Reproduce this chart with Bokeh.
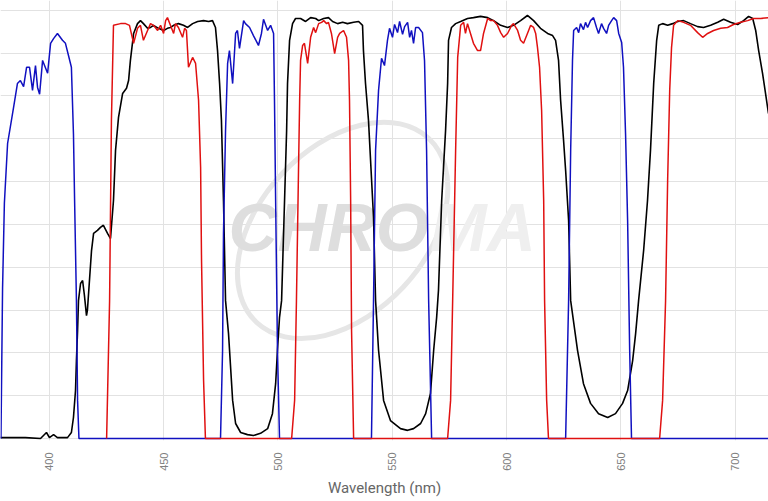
import math
from bokeh.plotting import figure
from bokeh.models import Range1d, FixedTicker
from bokeh.embed import file_html
from bokeh.resources import INLINE
from bokeh.core.properties import value

# ---- data (wavelength in nm, transmission in %) ----
blue_nm = [378.9, 379.6, 380.4, 381.8, 384.4, 386.1, 387.4, 388.8, 390.1, 391.4, 392.7, 394.0, 394.9, 395.8,
           397.1, 399.3, 400.6, 401.9, 403.6, 405.8, 407.1, 408.4, 409.7, 410.6, 411.1, 411.9, 412.4, 413.0,
           474.9, 475.8, 476.2, 477.1, 478.0, 478.8, 480.2, 481.5, 482.3, 483.2, 485.0, 485.8, 487.6, 489.3,
           491.5, 492.8, 493.7, 495.5, 496.8, 498.1, 498.5, 499.0, 499.8, 500.7,
           540.9, 541.8, 542.7, 544.0, 545.3, 546.6, 547.9, 548.8, 550.1, 551.0, 552.3, 553.2, 554.5, 555.4,
           556.7, 557.6, 558.4, 559.3, 560.2, 561.5, 563.2, 564.1, 565.0, 565.9, 567.2,
           625.8, 627.1, 628.0, 628.8, 629.3, 630.6, 631.5, 632.3, 633.6, 634.5, 635.4, 636.7, 638.0, 639.3,
           640.2, 641.5, 642.4, 643.7, 644.6, 645.9, 646.8, 648.1, 649.0, 650.3, 651.1, 652.0, 652.9, 653.8,
           654.6, 715.0]
blue_t = [0, 35, 55, 68.9, 77.3, 82.9, 83.6, 82.2, 86.7, 86.7, 81.3, 87.1, 82.0, 80.4,
          88.3, 85.3, 92.3, 93.4, 94.6, 93.0, 92.3, 89.5, 86.7, 71.2, 55.6, 32.2, 8.9, 0,
          0, 20.6, 47.9, 72.0, 87.6, 90.6, 82.9, 94.6, 95.3, 91.1, 97.6, 96.9, 96.0, 94.1,
          91.8, 94.6, 97.9, 95.3, 96.5, 94.6, 79.0, 55.6, 20.6, 0,
          0, 32.2, 67.3, 81.3, 88.8, 87.1, 93.0, 95.8, 93.7, 96.7, 94.8, 97.4, 94.4, 96.2,
          97.2, 93.7, 95.3, 92.3, 96.0, 96.0, 94.8, 88.3, 67.3, 32.2, 0,
          0, 32.2, 67.3, 88.3, 95.3, 96.0, 94.8, 96.9, 95.5, 97.2, 96.0, 97.6, 98.3, 96.0,
          94.6, 96.9, 95.8, 94.6, 96.5, 97.6, 98.3, 97.6, 94.6, 92.5, 86.7, 71.2, 50.9, 20.6,
          0, 0]

red_nm = [425.1, 426.4, 427.2, 428.1, 431.2, 433.4, 435.1, 436.9, 438.6, 439.9, 441.2, 443.0, 444.3,
          445.6, 447.4, 448.7, 450.0, 450.9, 451.7, 453.0, 454.4, 455.2, 456.5, 458.3, 459.2, 460.0, 460.9,
          462.7, 464.0, 465.3, 466.2, 466.6, 467.5, 468.3,
          506.0, 507.3, 508.1, 509.0, 509.5, 509.9, 510.8, 511.6, 513.0, 514.3, 515.6, 516.5, 517.8, 519.1,
          520.0, 521.3, 522.1, 523.4, 524.8, 526.1, 527.0, 528.7, 530.0, 530.9, 531.3, 531.8, 532.2, 533.1,
          574.2, 575.5, 576.4, 577.7, 578.6, 579.9, 581.2, 582.0, 582.9, 584.2, 585.5, 587.3, 588.6, 589.9,
          591.7, 593.0, 594.3, 596.0, 597.4, 598.7, 600.4, 602.2, 603.0, 604.8, 606.1, 607.4, 609.1, 610.5,
          611.8, 612.7, 613.5, 614.4, 615.3, 616.2, 616.6, 617.5, 618.3,
          666.9, 668.2, 669.5, 670.4, 671.3, 672.1, 673.0, 674.8, 677.4, 680.4, 683.5, 685.7, 687.9, 690.5,
          693.6, 696.6, 699.2, 702.3, 705.4, 708.0, 711.1, 714.5]
red_t = [0, 32.2, 74.3, 96.5, 96.9, 96.9, 96.5, 92.3, 95.8, 96.5, 93.0, 95.3, 96.9,
         96.5, 95.3, 96.5, 94.6, 97.6, 98.3, 96.5, 94.6, 96.9, 96.0, 93.7, 95.8, 95.3, 86.7,
         89.0, 87.6, 79.0, 63.3, 41.6, 13.5, 0,
         0, 8.9, 32.2, 62.6, 79.0, 88.3, 91.8, 92.3, 87.6, 93.7, 96.0, 94.8, 96.9, 97.2,
         97.6, 96.9, 97.2, 94.6, 89.9, 93.7, 94.6, 95.3, 93.7, 88.3, 79.0, 55.6, 25.2, 0,
         0, 8.9, 32.2, 67.3, 89.0, 96.5, 97.2, 94.6, 96.9, 94.6, 92.3, 90.6, 90.6, 94.6,
         98.1, 97.6, 97.6, 96.5, 94.8, 93.7, 94.6, 96.5, 96.9, 95.3, 93.0, 92.3, 94.6, 96.5,
         96.0, 94.6, 91.3, 86.7, 76.6, 55.6, 32.2, 8.9, 0,
         0, 8.9, 32.2, 60.3, 81.3, 91.3, 96.5, 97.6, 97.2, 96.5, 94.8, 93.7, 94.6, 95.3,
         95.8, 96.0, 96.7, 97.2, 97.6, 98.1, 98.1, 98.3]

black_nm = [378.7, 389.6, 396.2, 398.8, 400.1, 401.9, 403.6, 408.0, 409.7, 410.6,
            411.5, 411.9, 412.4, 412.8, 413.7, 414.6, 415.4, 416.3, 416.7, 417.6,
            418.5, 419.4, 421.1, 422.4, 423.7, 425.5, 426.8, 428.1, 429.0, 430.3,
            432.1, 433.8, 434.7, 435.5, 436.9, 438.6, 439.9, 441.2, 443.0, 444.3,
            445.6, 447.8, 450.0, 451.7, 453.0, 454.4, 456.5, 458.7, 460.5, 462.7,
            464.9, 467.5, 469.7, 471.4, 472.7, 473.6, 474.5, 475.3, 476.2, 477.1,
            478.4, 480.2, 481.5, 483.7, 486.7, 489.3, 492.4, 495.5, 497.6, 499.0,
            499.8, 500.7, 501.6, 502.9, 503.8, 504.2, 505.1, 506.4, 507.7, 509.9,
            512.1, 514.3, 516.5, 517.8, 520.0, 522.1, 523.9, 526.1, 528.3, 530.4,
            533.1, 535.3, 537.0, 537.4, 538.3, 539.6, 541.8, 542.7, 544.0, 546.2,
            549.2, 553.6, 556.7, 559.3, 562.4, 564.6, 566.7, 568.1, 569.4, 570.2,
            571.6, 573.3, 574.2, 574.6, 575.9, 577.7, 579.9, 582.9, 585.5, 588.6,
            591.7, 594.3, 597.4, 600.4, 603.0, 606.1, 609.1, 611.8, 614.8, 617.9,
            620.1, 621.4, 622.7, 623.6, 624.9, 625.8, 627.1, 628.0, 631.0, 633.6,
            636.7, 640.2, 644.2, 647.6, 650.7, 652.9, 655.1, 656.4, 657.7, 659.9,
            661.6, 662.9, 664.3, 665.6, 666.5, 668.2, 670.4, 672.6, 674.8, 677.4,
            680.4, 683.5, 686.1, 689.2, 692.3, 694.9, 697.9, 701.0, 703.6, 705.8,
            707.6, 708.9, 710.2, 711.9, 713.2, 714.5]
black_t = [0.2, 0.2, 0.0, 1.4, 0.2, 0.9, 0.2, 0.2, 1.4, 4.9,
           11.2, 18.2, 25.2, 32.2, 36.2, 36.9, 33.4, 28.7, 29.9, 36.9,
           43.9, 47.9, 48.6, 49.3, 49.8, 47.9, 46.7, 55.6, 67.3, 75.0,
           80.6, 81.8, 83.6, 88.3, 94.6, 96.9, 97.6, 96.9, 95.8, 96.0,
           96.5, 95.8, 95.3, 95.8, 96.0, 96.5, 96.9, 96.5, 96.0, 96.9,
           97.4, 97.6, 97.4, 97.6, 96.0, 90.6, 82.9, 74.3, 55.6, 32.2,
           24.5, 8.9, 3.5, 1.4, 0.9, 0.7, 1.2, 2.3, 5.8, 12.8,
           20.6, 28.3, 32.2, 55.6, 71.9, 82.9, 93.0, 96.9, 98.1, 98.1,
           97.4, 98.3, 98.1, 97.6, 98.1, 98.3, 97.4, 96.9, 97.2, 96.9,
           97.2, 97.4, 96.5, 90.6, 82.9, 74.3, 51.6, 32.2, 20.6, 8.9,
           4.2, 2.3, 1.9, 2.3, 3.5, 5.8, 10.5, 20.6, 28.3, 34.6,
           55.6, 71.9, 82.9, 93.0, 96.0, 96.9, 97.4, 98.1, 98.3, 98.6,
           98.3, 97.6, 96.5, 96.0, 96.5, 97.6, 98.8, 97.6, 95.8, 94.6,
           94.1, 93.0, 88.3, 79.0, 69.6, 62.6, 50.9, 32.2, 20.6, 12.8,
           8.2, 5.8, 4.9, 5.8, 8.2, 11.2, 18.2, 24.5, 32.2, 43.9,
           55.6, 67.3, 82.9, 93.0, 96.5, 96.9, 96.5, 96.9, 97.4, 97.6,
           96.9, 96.2, 96.0, 96.5, 97.2, 97.9, 97.2, 96.7, 97.6, 98.6,
           98.1, 95.3, 90.6, 85.3, 80.6, 75.9]

x_ticks = [400, 450, 500, 550, 600, 650, 700]
y_grid = [0, 10, 20, 30, 40, 50, 60, 70, 80, 90, 100]
x_title = "Wavelength (nm)"

# ---- figure ----
p = figure(frame_width=768, frame_height=440, output_backend="svg", toolbar_location=None,
           x_range=Range1d(378.7, 714.5), y_range=Range1d(-0.47, 102.3),
           min_border_left=0, min_border_right=0, min_border_top=0, min_border_bottom=0)
p.outline_line_color = None
p.background_fill_color = "white"
p.border_fill_color = "white"

p.yaxis.visible = False
p.ygrid.ticker = FixedTicker(ticks=y_grid)
p.xaxis.ticker = FixedTicker(ticks=x_ticks)
p.xgrid.ticker = FixedTicker(ticks=x_ticks)
p.grid.grid_line_color = "#e2e2e2"
p.grid.grid_line_width = 1

ax = p.xaxis[0]
ax.axis_line_color = None
ax.major_tick_line_color = None
ax.minor_tick_line_color = None
ax.major_tick_out = 0
ax.major_tick_in = 0
ax.major_label_orientation = math.pi / 2
ax.major_label_standoff = 12
ax.major_label_text_font = "Liberation Sans"
ax.major_label_text_font_size = "11px"
ax.major_label_text_color = "#808080"
ax.axis_label = x_title
ax.axis_label_standoff = 5
ax.axis_label_text_font = "Roboto"
ax.axis_label_text_font_style = "normal"
ax.axis_label_text_font_size = "15px"
ax.axis_label_text_color = "#666666"

# ---- watermark ----
p.ellipse(x=[528.3], y=[48.6], width=[252], height=[166], angle=[0.82],
          width_units="screen", height_units="screen",
          fill_color=None, line_color="#e6e6e6", line_width=5)
p.text(x=[565.9], y=[49.5], text=["CHRO"], text_font=value("Liberation Sans"),
       text_font_style="bold italic", text_font_size="68px", text_color="#dedede",
       text_align="right", text_baseline="middle")
p.text(x=[566.5], y=[49.5], text=["MA"], text_font=value("Liberation Sans"),
       text_font_style="bold italic", text_font_size="68px", text_color="#efefef",
       text_align="left", text_baseline="middle")

# ---- curves ----
p.line(black_nm, black_t, line_color="#000000", line_width=1.6)
p.line(blue_nm, blue_t, line_color="#1010c0", line_width=1.5)
p.line(red_nm, red_t, line_color="#e01010", line_width=1.5)

open("out.html", "w").write(file_html(p, INLINE))
